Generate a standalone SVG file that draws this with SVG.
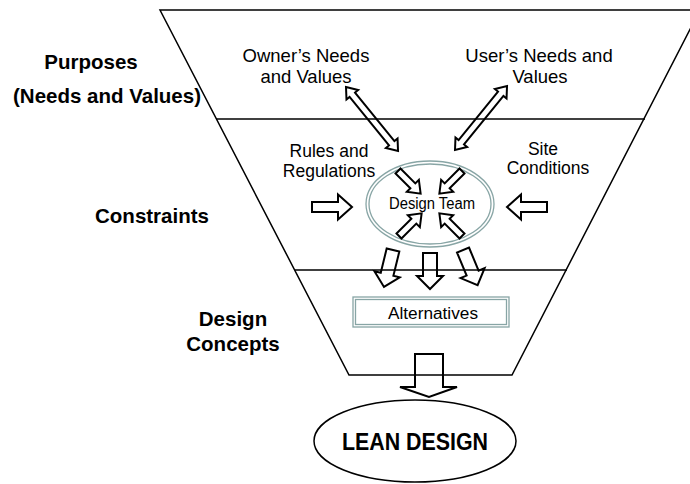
<svg xmlns="http://www.w3.org/2000/svg" width="690" height="484" viewBox="0 0 690 484">
  <style>
    .frame { fill: none; stroke: #000; stroke-width: 1.5; }
    .arrow { fill: none; stroke: #000; stroke-width: 2; stroke-linejoin: miter; }
    .label { font-family: "Liberation Sans", Arial, sans-serif; font-size: 20.5px; font-weight: bold; fill: #000; text-anchor: middle; }
    .txt { font-family: "Liberation Sans", Arial, sans-serif; fill: #000; text-anchor: middle; }
    .soft { fill: none; stroke: #88a5a5; stroke-width: 1.3; }
  </style>

  <!-- funnel outline and its bands -->
  <g id="funnel">
    <polygon class="frame" points="160,10 700,10 512,375 349,375"/>
    <line class="frame" x1="216" y1="119" x2="645" y2="119"/>
    <line class="frame" x1="295" y1="270" x2="567" y2="270"/>
  </g>

  <!-- band titles -->
  <g id="purposes">
    <text class="label" x="91" y="69">Purposes</text>
    <text class="label" x="107" y="103">(Needs and Values)</text>
  </g>
  <g id="constraints">
    <text class="label" x="152" y="223">Constraints</text>
  </g>
  <g id="design-concepts">
    <text class="label" x="233" y="326">Design</text>
    <text class="label" x="233" y="351">Concepts</text>
  </g>

  <!-- inputs -->
  <g id="owner">
    <text class="txt" font-size="18.5" x="306" y="62">Owner’s Needs</text>
    <text class="txt" font-size="18.5" x="306" y="83">and Values</text>
  </g>
  <g id="user">
    <text class="txt" font-size="18.5" x="539" y="62">User’s Needs and</text>
    <text class="txt" font-size="18.5" x="540" y="83">Values</text>
  </g>
  <g id="rules">
    <text class="txt" font-size="17.5" x="329" y="157">Rules and</text>
    <text class="txt" font-size="17.5" x="329" y="177">Regulations</text>
  </g>
  <g id="site">
    <text class="txt" font-size="17.5" x="543" y="155">Site</text>
    <text class="txt" font-size="17.5" x="548" y="174">Conditions</text>
  </g>

  <!-- design team -->
  <g id="design-team">
    <ellipse class="soft" cx="430" cy="204" rx="64" ry="43"/>
    <ellipse class="soft" cx="430" cy="204" rx="61" ry="40"/>
    <text class="txt" font-size="16" x="432" y="209" textLength="86" lengthAdjust="spacingAndGlyphs">Design Team</text>
  </g>

  <!-- alternatives -->
  <g id="alternatives">
    <rect class="soft" x="353" y="297" width="156" height="30"/>
    <rect class="soft" x="355.5" y="299.5" width="151" height="25"/>
    <text class="txt" font-size="16" x="433" y="319" textLength="90" lengthAdjust="spacingAndGlyphs">Alternatives</text>
  </g>

  <!-- outcome -->
  <g id="lean-design">
    <ellipse class="frame" cx="415" cy="441" rx="101" ry="41"/>
    <text class="txt" font-size="24" font-weight="bold" x="415" y="450" textLength="146" lengthAdjust="spacingAndGlyphs">LEAN DESIGN</text>
  </g>

  <!-- block arrows -->
  <g id="connectors">
    <!-- two-way links to the needs -->
    <polygon class="arrow" transform="translate(346,87) rotate(50.9)" points="0,0 10,-7.5 10,-3.5 72.5,-3.5 72.5,-7.5 82.5,0 72.5,7.5 72.5,3.5 10,3.5 10,7.5"/>
    <polygon class="arrow" transform="translate(455,150) rotate(-50.9)" points="0,0 10,-7.5 10,-3.5 72.5,-3.5 72.5,-7.5 82.5,0 72.5,7.5 72.5,3.5 10,3.5 10,7.5"/>

    <!-- constraints pushing in -->
    <polygon class="arrow" transform="translate(312,207)" points="0,-5 26,-5 26,-12.5 40,0 26,12.5 26,5 0,5"/>
    <polygon class="arrow" transform="translate(547,207) rotate(180)" points="0,-5 26,-5 26,-12.5 40,0 26,12.5 26,5 0,5"/>

    <!-- small arrows converging on the team -->
    <polygon class="arrow" transform="translate(398,171) rotate(45)" points="0,-3.5 21,-3.5 21,-8.5 32,0 21,8.5 21,3.5 0,3.5"/>
    <polygon class="arrow" transform="translate(462,171) rotate(135)" points="0,-3.5 21,-3.5 21,-8.5 32,0 21,8.5 21,3.5 0,3.5"/>
    <polygon class="arrow" transform="translate(399,236) rotate(-45)" points="0,-3.5 21,-3.5 21,-8.5 32,0 21,8.5 21,3.5 0,3.5"/>
    <polygon class="arrow" transform="translate(462,236) rotate(-135)" points="0,-3.5 21,-3.5 21,-8.5 32,0 21,8.5 21,3.5 0,3.5"/>

    <!-- output arrows toward the alternatives -->
    <polygon class="arrow" transform="translate(393,250) rotate(103.7)" points="0,-6.5 25,-6.5 25,-13 38,0 25,13 25,6.5 0,6.5"/>
    <polygon class="arrow" transform="translate(430,253) rotate(90)" points="0,-7 23,-7 23,-13 36,0 23,13 23,7 0,7"/>
    <polygon class="arrow" transform="translate(463,250) rotate(67.4)" points="0,-6.5 25,-6.5 25,-13 38,0 25,13 25,6.5 0,6.5"/>

    <!-- funnel output -->
    <polygon class="arrow" stroke-width="1.5" points="415,354 443,354 443,387 457,387 429,397 400,387 415,387"/>
  </g>
</svg>
